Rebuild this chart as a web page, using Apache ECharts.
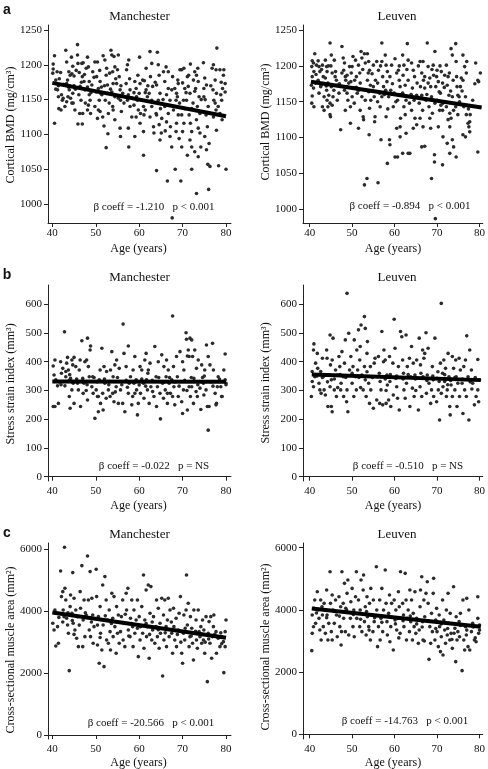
<!DOCTYPE html>
<html><head><meta charset="utf-8">
<script src="https://cdn.jsdelivr.net/npm/echarts@6/dist/echarts.min.js"></script>
<style>html,body{margin:0;padding:0;background:#fff}#c{width:488px;height:769px}</style>
</head><body><div id="c"></div>
<script>
// ---------------- DATA ----------------
var xTicks = [40, 50, 60, 70, 80];
var bmdTicks = [1000, 1050, 1100, 1150, 1200, 1250];
var ssiTicks = [0, 100, 200, 300, 400, 500, 600];
var csaTicks = [0, 2000, 4000, 6000];
var panelTitles = ["Manchester", "Leuven"];
var coeffTexts = [
  "\u03b2 coeff = -1.210   p < 0.001", "\u03b2 coeff = -0.894   p < 0.001",
  "\u03b2 coeff = -0.022   p = NS", "\u03b2 coeff = -0.510   p = NS",
  "\u03b2 coeff = -20.566   p < 0.001", "\u03b2 coeff = -14.763   p < 0.001"
];

var manBmd = [[40.5,1213],[40.2,1201],[40.2,1194],[40.1,1188],[40.8,1165],[40.5,1116],[41.4,1170],[41.6,1180],[41.9,1189],[41.4,1154],[41.5,1137],[42,1135],[42.1,1157],[42.5,1152],[42.3,1149],[41.2,1164],
[43.1,1221],[43.3,1204],[43.5,1178],[43.3,1173],[43.7,1168],[42.9,1140],[43.3,1147],[43.9,1164],[43.6,1154],
[44.4,1211],[44.5,1187],[44.1,1185],[44.7,1198],[44.2,1152],[44.7,1159],[44.5,1145],[45,1170],[44.8,1145],[45.2,1135],[45,1184],[45.3,1165],
[45.8,1229],[45.8,1214],[46.2,1189],[45.9,1202],[45.9,1115],[46.4,1169],[46.1,1157],[46.6,1149],[46.3,1130],
[46.8,1202],[47.1,1203],[46.9,1183],[47.3,1176],[46.9,1115],[47.5,1164],[47,1130],[47.6,1145],[47.8,1195],
[48.1,1211],[48.3,1197],[48.5,1176],[48.1,1168],[48.7,1149],[48.3,1142],[48.8,1130],[48.1,1135],[49.1,1171],[49.3,1190],[48.5,1157],
[49.8,1204],[50.4,1204],[50.2,1183],[50.6,1166],[50.1,1161],[50.8,1149],[49.8,1140],[50.6,1135],[51,1133],[50.4,1123],[51,1176],[51.1,1159],
[51.7,1213],[52.1,1207],[52.5,1195],[52.4,1185],[51.6,1125],[51.9,1112],[52.4,1081],[52.8,1101],[52.7,1171],[52.2,1149],[53.1,1145],[51.4,1157],[52.9,1130],[52,1170],[52.7,1159],
[53.5,1221],[53.7,1214],[54.2,1212],[53.9,1190],[54.4,1197],[54,1173],[53.7,1161],[54.4,1154],[53.9,1140],[54.4,1121],[54,1135],
[55.2,1214],[55,1193],[55.4,1183],[54.8,1173],[55.6,1164],[55.2,1152],[55.7,1149],[55.9,1133],[55.6,1109],[55.7,1097],[56.2,1159],
[57.3,1200],[57.6,1207],[57.1,1193],[57,1173],[57.9,1164],[57.5,1157],[57.3,1149],[57.9,1140],[57.5,1109],[57.6,1082],[58.3,1125],[58.3,1152],
[59,1176],[59.3,1166],[59.4,1154],[59.6,1149],[58.8,1142],[59.8,1135],[59.3,1125],[59,1097],[60.1,1211],[60.2,1173],[60,1159],[60.2,1116],[60.3,1130],
[60.8,1178],[61.2,1177],[60.6,1149],[61,1140],[61.1,1128],[61,1104],[61,1070],[61.6,1195],[61.6,1164],[61.4,1135],[61.9,1154],
[62.5,1219],[62.9,1202],[62.6,1183],[63.1,1169],[62.9,1149],[62.5,1125],[63.3,1111],[63.4,1102],[62.9,1140],[62.3,1159],
[64.2,1218],[64.4,1200],[64.6,1185],[64,1171],[64.8,1159],[64.4,1149],[64.9,1137],[64,1128],[64.6,1114],[65.1,1102],[64.8,1092],[64,1048],[65.2,1123],[65.6,1190],
[66.2,1197],[66.7,1190],[65.9,1176],[66.7,1166],[66.3,1157],[67.1,1149],[65.9,1140],[66.7,1130],[66.3,1118],[67.2,1111],[67.1,1097],[67.5,1082],[66.5,1033],[67.5,1164],[67.7,1183],
[68.2,1166],[68.6,1159],[68.5,1149],[68,1140],[69,1128],[68.6,1116],[68.5,1104],[69.2,1094],[68.3,1050],[67.6,980],[69.4,1193],[69,1173],[68.8,1154],
[69.8,1193],[70.3,1195],[70,1174],[70.5,1166],[70.2,1149],[69.8,1128],[70.3,1116],[70,1104],[69.8,1082],[69.6,1033],[70.5,1137],
[71.8,1201],[71.3,1169],[71.7,1159],[70.9,1149],[72.1,1137],[71.5,1128],[71.8,1116],[72.1,1104],[71.7,1092],[72.1,1082],[71.1,1070],[72.1,1050],[72.5,1178],[71.1,1183],
[72.8,1190],[73.2,1185],[73.6,1176],[73,1166],[73.8,1154],[73.4,1140],[74,1130],[73.2,1121],[73.6,1109],[74,1102],[72.8,1075],[73.6,1068],[73.2,1015],[74.2,1082],[72.8,1162],
[74.8,1203],[75.1,1181],[75.5,1171],[74.9,1154],[75.9,1140],[75.4,1128],[75.7,1111],[75.1,1097],[76.1,1087],[75.5,1078],[75.8,1057],[76,1021],[76.3,1054],[74.9,1166],
[77.1,1200],[77.7,1193],[77.5,1178],[77,1164],[77.8,1159],[77.2,1149],[77.7,1135],[77.1,1125],[77.8,1106],[77.9,1224],[77.5,1145],
[78.6,1193],[79.5,1193],[79.8,1173],[79.2,1166],[79.8,1161],[79,1149],[78.6,1130],[78.3,1055],[80,1050],[79.1,1121],[78.8,1157],
[40.8,1178],[41.1,1190],[42.6,1172],[43.8,1190],[44.0,1170],[45.5,1192],[46.7,1175],[47.4,1186],[48.9,1160],[49.6,1182],[50.9,1192],[51.3,1168],[53.2,1188],[53.4,1165],[54.6,1180],[55.8,1170],[56.5,1145],[57.8,1180],[58.8,1160],[59.7,1185],[61.4,1160],[62.0,1170],[63.7,1175],[63.9,1130],[65.5,1150],[66.0,1105],[67.9,1135],[68.9,1178],[69.3,1145],[70.8,1160],[71.4,1185],[72.4,1145],[73.5,1195],[74.3,1150],[76.5,1170],[76.8,1195],[78.2,1140],[79.4,1185],[78.9,1175],[75.2,1150]];

var leuBmd = [[40.6,1207],[40.9,1204],[41.2,1217],[40.5,1199],[41,1192],[40.6,1185],[40.4,1173],[40.9,1169],[40.6,1158],[40.5,1148],[41,1143],[41.4,1176],[41.6,1201],
[42,1207],[42.2,1199],[42.4,1192],[42,1180],[42.6,1171],[42.2,1162],[43,1201],[43.2,1185],[42.7,1173],[43.4,1157],[43,1143],[43.4,1138],
[43.7,1208],[44,1199],[44.1,1192],[43.7,1183],[44.3,1176],[44,1166],[44.5,1159],[44.1,1152],[44.8,1148],[44.3,1143],[44.8,1132],[44.9,1129],[44.8,1232],[45.1,1215],[45.3,1190],[45.1,1171],[45.5,1157],[45.3,1145],
[45.8,1208],[46.1,1192],[46.3,1180],[45.7,1166],[46.5,1152],[46.9,1162],[46.5,1173],[47.3,1111],[47.6,1190],[47.9,1211],[47.6,1227],
[48,1194],[48.4,1185],[48.2,1204],[48.7,1171],[48.2,1166],[48.8,1162],[48.4,1138],[49,1152],[49.2,1176],[49.4,1199],[48.8,1187],
[49.6,1143],[50,1199],[50.2,1213],[49.7,1178],[50.4,1169],[50,1157],[50.5,1148],[49.6,1120],[50.8,1208],[51,1185],[51.2,1162],
[51.5,1201],[51.8,1190],[52.1,1220],[52.3,1211],[51.9,1176],[51.5,1166],[52.3,1157],[51.9,1138],[51.5,1113],[52.6,1129],[52.7,1125],[52.9,1217],[53.1,1204],[52.9,1034],[53.5,1043],[53.1,1152],
[53.6,1217],[53.9,1206],[54.1,1194],[53.6,1180],[54.3,1173],[53.9,1164],[54.4,1152],[54.1,1141],[54,1104],[54.7,1189],[55,1201],[55,1171],[55.2,1157],[55.4,1129],[55.3,1122],
[55.8,1206],[56.2,1194],[56,1176],[56.5,1162],[56,1150],[56.6,1143],[56.1,1037],[56.8,1097],[57,1232],[57,1206],[57.2,1185],[57.4,1171],[57,1157],
[57.8,1215],[58,1201],[58.3,1192],[58.2,1178],[57.9,1166],[58.6,1157],[58,1129],[58.3,1064],[58.8,1097],[58.9,1090],[59.1,1166],[59.3,1201],[58.9,1185],
[60.1,1210],[59.9,1162],[60.3,1150],[59.7,1143],[60.1,1073],[60.7,1073],[60.5,1113],[60.9,1194],[61.1,1180],[61.3,1171],[60.7,1152],[61.4,1127],[61.3,1115],[61.3,1101],
[61.9,1215],[62.2,1201],[62,1187],[62.5,1173],[61.9,1162],[62.7,1152],[62.2,1143],[62.5,1132],[61.9,1078],[62.7,1106],[63,1231],[63.2,1208],[63.2,1180],[63.2,1078],[63.6,1078],[63.5,1148],
[64,1204],[64.4,1194],[64.2,1169],[64.6,1152],[64,1138],[64.8,1127],[64.4,1113],[65.2,1118],[65.3,1176],[65.2,1159],
[66,1206],[66.4,1190],[66.1,1171],[66.4,1159],[65.8,1148],[66.6,1138],[66,1127],[66.4,1087],[66.7,1206],[67.1,1185],[67.1,1169],[67.4,1152],[66.7,1115],[67.1,1088],[67.7,1232],[67.9,1199],[67.9,1176],
[68.3,1183],[68.5,1171],[68.7,1157],[68.1,1143],[68.9,1134],[68.3,1127],[68.5,1113],[68.7,1043],[69.1,1201],[69.2,1187],[69.5,1220],[69.7,1171],[69.5,1148],[69.4,1076],[69.4,1066],[69.6,987],
[70,1194],[70.3,1178],[70.5,1164],[70,1152],[70.6,1138],[70.3,1115],[71,1192],[71.3,1176],[70.8,1162],[71.4,1148],[71.3,1138],[71.4,1101],[71.3,1062],[71.8,1187],
[72.2,1201],[72.6,1185],[72.4,1173],[72.8,1159],[72.2,1143],[73,1134],[72.6,1125],[73,1115],[72.4,1092],[73,1078],[73.3,1224],[73.6,1215],[73.8,1180],[73.6,1157],[73.9,1138],[73.6,1097],[73.3,1127],[73.9,1087],
[74.4,1231],[74.5,1206],[74.7,1171],[74.9,1159],[74.4,1143],[74.9,1132],[74.5,1073],[75.3,1150],[75.7,1183],[75.5,1171],[75.2,1157],
[76.1,1215],[76.5,1199],[76.1,1180],[76.7,1157],[76.3,1143],[76.9,1132],[76.1,1104],[76.7,1101],[77,1206],[77.3,1120],[77.5,1115],[77.7,1108],[77.8,1132],[77.7,1122],
[79.1,1204],[79.6,1180],[79.8,1178],[80.2,1190],[79.6,1080],[78.4,1152],
[41.5,1188],[42.8,1195],[43.9,1172],[45.0,1200],[46.0,1185],[47.0,1175],[48.5,1180],[49.8,1190],[51.0,1170],[52.5,1195],[53.8,1190],[55.5,1180],[56.7,1200],[57.6,1160],[59.5,1175],[60.5,1190],[61.6,1160],[62.9,1195],[64.7,1185],[65.6,1200],[66.8,1180],[67.6,1160],[68.8,1195],[69.9,1185],[70.7,1200],[71.7,1170],[72.9,1190],[73.2,1165],[74.6,1185],[75.9,1165],[76.9,1190],[77.4,1140],[78.9,1175],[58.4,1140],[63.9,1160],[44.4,1200],[50.6,1180],[70.9,1145],[61.1,1200],[54.6,1165]];

var manSsi = [[40.2,244],[40.6,244],[40.4,354],[40.2,385],[40.8,337],[41.2,316],[41.4,255],[40.6,406],
[41.9,400],[42.1,360],[42.4,377],[42.5,331],[42.8,504],[42.9,316],[43.1,366],[43.3,395],[43.1,348],
[43.5,415],[43.7,371],[43.9,279],[44.1,238],[44.2,342],[44.5,406],[44.5,302],[44.7,389],[44.8,325],[45,255],[45,415],
[45.4,383],[45.8,325],[46,302],[46.2,371],[46.4,406],[46.8,473],[47,342],[46.5,244],[47.1,290],[47.3,325],
[47.5,400],[47.9,406],[48.1,482],[48.3,383],[48.5,348],[48.7,441],[48.8,455],[49.1,313],[48.1,267],[49.3,348],[49.4,290],
[49.8,203],[50.1,302],[50.4,279],[50.6,226],[50.8,337],[51,371],[51.1,255],[50.6,279],[51.4,447],[51.6,290],[51.7,232],[51.9,383],[52.1,325],
[52.4,273],[52.5,366],[52.9,302],[53.1,331],[53.3,279],[53.4,371],[53.7,435],[53.9,290],[54,348],[54.2,261],
[54.4,389],[54.7,313],[54.8,406],[55.2,255],[55.4,377],[55.6,331],[55.7,302],[56.2,255],[56.3,531],[56.5,429],[56.7,226],
[57,383],[57.3,311],[57.5,455],[57.5,290],[57.7,325],[58,348],[58.3,250],[58.5,279],[58.6,371],[59,418],
[59.3,337],[59.4,302],[59.6,215],[59.8,255],[60,319],[60.2,383],[60.3,290],[60.6,371],
[61,325],[61.1,273],[61.3,406],[61.6,429],[61.7,337],[61.9,302],[62.1,371],[62.3,255],[62.5,395],[62.7,313],
[63.1,296],[63.4,279],[63.6,453],[63.9,348],[64,244],[64.2,313],[64.4,400],[64.6,331],[64.8,290],
[64.9,201],[65.2,424],[65.4,325],[65.6,273],[65.7,383],[66,302],[66.2,348],[66.3,406],[66.5,255],
[66.7,371],[66.9,325],[67.2,290],[67.5,337],[67.7,559],[67.7,279],[67.9,383],[68,313],[68.2,250],
[68.6,418],[68.8,348],[69,279],[69.4,435],[69.5,331],[69.8,261],[70,220],[70.2,302],[70.3,371],[70,400],
[70.8,501],[70.9,478],[71.1,420],[71.3,441],[71.5,418],[71.7,482],[71.8,279],[72.1,476],[72.1,313],[72.3,418],[72.5,255],[72.6,342],[71.5,313],[71.1,232],
[72.8,441],[73.1,296],[73.2,377],[73.4,279],[73.6,406],[73.8,331],[74,308],[74.2,234],[74.4,389],
[74.8,325],[74.9,284],[75.1,371],[75.4,302],[75.5,458],[75.7,244],[75.9,162],[76.1,244],[75.9,418],[76.3,389],
[76.9,464],[77.1,371],[77.2,331],[77.5,290],[77.7,250],[77.8,255],[78,313],[78.2,348],
[78.8,313],[79,279],[79.2,331],[79.5,371],[79.8,427],[80,325],[79.8,337],[79.1,279],
[41.6,330],[42.0,320],[43.9,335],[45.6,340],[46.9,330],[48.0,320],[49.6,345],[50.3,330],[52.0,340],[53.0,320],[55.0,345],[56.0,320],[57.0,335],[58.8,325],[60.6,340],[61.5,315],[63.0,335],[64.5,345],[65.8,330],[67.0,345],[68.3,330],[69.2,315],[70.5,335],[72.0,345],[73.5,320],[74.6,345],[76.5,330],[77.0,315],[78.5,340],[80,320],[47.8,300],[54.5,295],[59.0,290],[66.5,290],[71.0,300],[44.0,355],[62.0,360],[75.0,350]];

var leuSsi = [[40.4,279],[40.6,366],[40.9,441],[41,462],[40.6,331],[41.2,348],[40.9,313],[41.4,395],
[41.8,429],[41.9,377],[42.2,325],[42.4,302],[42.6,366],[42.7,290],[43,412],[43.2,348],[43.4,302],
[43.7,284],[44,441],[44.1,412],[44.3,244],[44.5,354],[44.8,493],[44.8,313],[44.9,389],[45.1,244],[45.3,226],[45.5,482],[45.3,406],[45.1,337],
[45.8,302],[46.1,371],[46.3,279],[46.5,354],[46.9,418],[47.1,383],[47.3,302],[47.4,325],
[47.6,435],[47.9,348],[48,279],[48.2,395],[48.4,476],[48.7,261],[48.8,638],[49,226],[48.8,302],[49.2,499],[49.4,371],
[49.7,418],[50,325],[50.2,383],[50.4,279],[50.5,476],[50.8,348],[51,302],[51.1,441],[51.3,371],
[51.5,511],[51.8,406],[51.9,453],[52.1,528],[52.3,354],[52.6,302],[52.9,557],[52.9,383],[53.1,516],[53.1,337],[53.3,279],[53.5,429],
[53.6,470],[53.9,325],[54.1,255],[54.3,383],[54.4,302],[54.7,348],[55,238],[55.2,395],[55.4,412],
[55.8,267],[56,348],[56.2,418],[56.5,255],[56.6,331],[56.8,302],[57,505],[57.2,250],[57.4,400],
[57.5,441],[57.8,406],[58,255],[58.2,354],[58.3,319],[58.6,267],[58.8,418],[58.9,331],[59.1,244],
[59.6,395],[59.7,284],[59.9,548],[60.1,447],[60.3,342],[60.5,313],[60.7,273],[60.9,383],[61.1,232],
[61.4,505],[61.7,487],[61.9,406],[62.1,360],[62.2,302],[62.5,273],[62.7,493],[62.8,325],[63,383],
[63.5,412],[63.6,244],[63.8,348],[64,453],[64.2,308],[64.4,395],[64.6,279],[64.8,354],[65.2,406],
[65.6,232],[65.8,482],[66,313],[66.1,389],[66.4,279],[66.6,441],[66.7,348],[66.9,412],[67.1,429],[67.4,501],[67.5,290],
[67.7,354],[67.9,447],[68.1,325],[68.5,255],[68.7,302],[68.9,383],[69.1,337],[69.2,279],[69.5,482],
[69.9,261],[70,342],[70.3,302],[70.5,331],[70.6,197],[70.8,395],[71,603],[71,290],[71.3,360],[71.4,313],[71.6,406],
[71.8,331],[72,377],[72.2,279],[72.4,302],[72.6,429],[72.8,348],[73,244],[73.1,215],[73.3,319],[73.6,418],[73.6,279],
[73.9,377],[74.2,302],[74.4,406],[74.5,348],[74.7,244],[74.9,325],[75.2,412],[75.3,279],[75.5,371],
[75.9,325],[76.1,220],[76.3,383],[76.5,302],[76.7,406],[76.9,279],[77,490],[77.3,348],[77.5,197],[77.7,441],
[78.1,371],[78.4,325],[78.8,250],[79.2,279],[79.6,408],[79.8,261],[80,337],[79.6,302],
[41.7,350],[43.0,345],[44.2,330],[45.8,340],[47.2,355],[48.5,345],[50.0,360],[51.6,345],[53.5,365],[54.8,345],[56.4,360],[57.8,340],[59.0,355],[60.5,350],[62.0,340],[63.2,355],[64.9,340],[66.2,360],[67.6,335],[69.0,350],[70.2,365],[71.8,355],[73.2,335],[74.2,345],[76.0,340],[77.8,330],[79.0,345],[46.6,310],[52.0,310],[58.0,300],[65.0,300],[72.5,320],[78.2,305]];

var manCsa = [[40.1,3609],[40.4,3393],[40.6,4040],[41,3932],[40.8,2876],[41.4,2962],[41.2,3501],
[41.9,5300],[42.1,4471],[42.4,4632],[42.5,4040],[42.7,3824],[42.8,6065],[42.9,4740],[43.1,4363],[43.3,3770],[43.5,3555],[43.7,3286],[43.9,2079],[44.1,4148],
[44.2,4524],[44.5,3932],[44.7,5246],[44.8,3609],[45,4417],[45.2,3393],[45.4,4040],[45.6,3124],[45.8,3824],[46,2855],
[46.4,4632],[46.5,4094],[46.8,5472],[47,2855],[47.1,3716],[47.3,4363],[47.5,3178],[47.8,3878],
[48.1,5785],[48.3,4363],[48.5,3393],[48.7,5279],[48.8,3178],[49.1,4417],[49.3,3878],[49.4,2962],[49.6,3501],
[50.1,5354],[50.2,4471],[50.4,2909],[50.6,3824],[50.8,2316],[51,4148],[51.1,3286],[51.4,2747],[51.6,4848],[51.7,3555],[51.9,2208],
[52.1,5117],[52.4,4363],[52.5,3070],[52.7,3716],[52.9,2962],[53.1,4040],[53.3,3339],[53.4,2747],[53.7,4578],
[53.9,3770],[54,3178],[54.2,4471],[54.4,3501],[54.7,2639],[54.8,4148],[55,3286],[55.2,3878],[55.4,2962],
[55.7,3339],[55.9,3824],[56.2,4363],[56.3,3070],[56.5,3609],[56.7,2855],[57,4578],[57.1,4040],[57.4,4740],[57.5,3393],
[57.9,3178],[58,3770],[58.3,4363],[58.5,3501],[58.6,2855],[58.8,4040],[59,3286],[59.3,3716],
[59.6,4363],[59.8,2532],[60,3824],[60.2,3070],[60.3,3501],[60.6,4148],[60.8,3286],[61,5171],[61.1,2801],[61.3,3716],
[61.6,4686],[61.7,3178],[61.9,3501],[62.1,4848],[62.3,2478],[62.5,3932],[62.7,4794],[62.9,3070],[63.1,3393],[63.3,3824],
[63.6,2962],[63.9,3501],[64,4363],[64.2,3178],[64.4,4094],[64.6,2801],[64.8,3609],[64.9,3286],[65.2,4417],[65.4,1907],
[65.6,3878],[65.7,3070],[65.9,4363],[66.2,3501],[66.3,2855],[66.5,3716],[66.7,4417],[66.9,3178],[67.1,4040],
[67.5,3286],[67.7,2639],[67.9,4094],[68,3501],[68.2,3070],[68.5,3770],[68.6,2855],[69,3393],[69.2,3932],
[69.5,4471],[69.8,2639],[70,2316],[70.2,3286],[70.3,3878],[70.5,3070],[70.8,4040],[70.9,5171],[71.1,3555],[71.3,4255],[71.5,2855],[71.7,3178],
[71.8,3824],[72.1,3447],[72.3,2962],[72.5,2424],[72.6,4040],[72.8,3286],[73.1,3716],[73.2,3070],[73.4,2801],[73.6,4040],
[73.8,3339],[74,3178],[74.2,3501],[74.4,2962],[74.6,3716],[74.8,3070],[74.9,3393],[75.1,2639],[75.4,3824],
[75.7,1723],[75.9,3286],[76.1,3663],[76.3,2962],[76.5,3824],[76.7,2478],[76.9,3178],[77.1,3501],[77.2,3878],
[77.7,3339],[77.8,2639],[78.2,3124],[78.6,2855],[79,3178],[79.4,3016],[79.5,2014],[79.8,3339],[80,3716],[79.8,2855],
[41.5,3800],[42.4,3650],[43.6,3950],[44.6,3700],[46.2,3550],[47.6,3950],[49.0,3650],[50.4,3550],[52.2,3850],[53.6,3600],[55.0,3650],[56.8,3900],[58.2,3600],[59.6,3450],[61.6,3600],[63.0,3650],[64.4,3400],[66.0,3300],[67.4,3650],[68.8,3250],[70.6,3450],[72.0,3200],[73.0,3350],[74.6,3250],[76.0,3100],[77.4,3250],[78.8,3300],[45.0,3250],[51.0,3150],[57.6,3200],[62.4,3250],[69.6,3000],[75.2,3000],[79.0,2950]];

var leuCsa = [[40.5,2689],[40.6,3246],[40.9,3460],[41,4049],[41.2,4317],[40.6,3836],[41.4,3568],
[41.8,4585],[41.9,3996],[42.2,3729],[42.4,3354],[42.6,4317],[42.7,3032],[43,3836],[43.2,3461],[43.4,4211],
[43.7,3246],[44,4639],[44.1,3836],[44.3,3032],[44.5,3568],[44.8,5229],[44.9,4211],[45.1,3300],[45.3,3032],[45.5,3996],[45.3,4478],
[45.8,3568],[46.1,4317],[46.3,3836],[46.5,3139],[46.9,4425],[47.1,3461],[47.3,4103],[47.4,2871],
[47.6,5229],[47.9,4211],[48,3729],[48.2,4853],[48.4,3300],[48.7,3996],[48.8,4532],[49,4960],[49.2,3193],
[49.6,3729],[49.7,4264],[50,4692],[50.2,3461],[50.4,3996],[50.5,3139],[50.8,4425],[51,5229],[51.1,3729],
[51.5,4317],[51.8,3461],[51.9,3996],[52.1,4960],[52.3,3300],[52.6,4639],[52.7,5121],[52.9,3622],[53.1,4103],[53.3,3193],[53.5,4425],
[53.6,3782],[53.9,3461],[54.1,4211],[54.3,3032],[54.4,4692],[54.7,3836],[54.9,3300],[55,4317],[55.2,3622],
[55.7,5389],[55.8,3996],[56,2818],[56.2,3461],[56.5,4317],[56.6,3032],[56.8,3729],[57,4692],[57.2,3300],[57.4,3996],
[57.8,5282],[58,4211],[58.2,3622],[58.3,3193],[58.6,3889],[58.8,4478],[58.9,2978],[59.1,3461],[59.3,4211],
[59.7,2710],[59.9,4317],[60.1,3675],[60.3,3996],[60.5,3354],[60.7,3729],[60.9,4585],[61.1,4103],[61.3,3246],[61.4,5229],
[61.9,4211],[62.1,3836],[62.2,3461],[62.5,5175],[62.7,4317],[62.8,3032],[63,3729],[63.2,3996],[63.5,3300],
[63.6,4639],[63.8,3622],[64,4317],[64.2,3032],[64.4,3889],[64.6,3461],[64.8,4585],[65,3246],[65.2,3729],
[65.6,2925],[65.8,3354],[66,4103],[66.1,4639],[66.4,5068],[66.6,3622],[66.7,3032],[66.9,4317],[67.1,3782],[67.4,4532],
[67.7,4907],[67.9,4211],[68.1,2410],[68.3,3461],[68.5,2925],[68.7,3889],[68.9,3300],[69.1,4532],[69.2,5014],[69.5,3032],
[69.7,3675],[69.9,4049],[70,3300],[70.3,2818],[70.5,3836],[70.6,3461],[70.8,2657],[71,3139],[71.3,4317],[71.4,2550],[71.6,3675],
[71.8,3354],[72,2925],[72.2,3996],[72.4,3193],[72.6,4532],[72.8,3568],[73,3032],[73.1,3889],[73.3,3246],[73.6,2764],
[73.9,4746],[74.2,3407],[74.4,2336],[74.5,3782],[74.7,3032],[74.9,3300],[75.2,3622],[75.3,3139],[75.5,3889],
[75.9,2046],[76.1,4317],[76.3,3032],[76.5,2710],[76.7,3461],[76.9,3193],[77,4371],[77.3,2818],[77.5,3996],[77.7,2710],
[78.1,3300],[78.4,3568],[78.8,3032],[79.2,2978],[79.6,4425],[79.8,3246],[80,3514],[79.6,3729],
[41.6,3900],[42.9,4100],[44.0,3750],[45.7,3950],[47.0,3800],[48.5,4050],[50.3,3850],[52.0,3700],[53.4,3950],[55.3,3750],[57.0,3600],[58.5,3800],[60.2,3550],[62.0,3650],[63.7,3800],[65.2,3550],[66.5,3450],[68.0,3650],[69.7,3400],[71.0,3550],[72.5,3400],[74.0,3250],[75.5,3500],[77.0,3350],[78.5,3450],[80,3350],[47.5,3300],[54.0,3350],[61.0,3100],[67.0,3000],[73.5,3050],[79.0,3100]];

// regression line end points (age, fitted value)
var manBmdFit = [[40,1174],[80,1126]];
var leuBmdFit = [[40.3,1178],[80.5,1142]];
var manSsiFit = [[40,331],[80,330]];
var leuSsiFit = [[40.5,356],[80.3,336]];
var manCsaFit = [[40,3960],[80,3140]];
var leuCsaFit = [[40.5,4045],[80.3,3460]];

var yTitles = ["Cortical BMD (mg/cm\u00b3)", "Stress strain index (mm\u00b3)", "Cross-sectional muscle area (mm\u00b2)"];
var xTitle = "Age (years)";
var panelLetters = ["a", "b", "c"];

// ---------------- LAYOUT ----------------
var SERIF = '"Liberation Serif", "Times New Roman", serif';
var grids = [
  {left:48, top:25, width:183, height:198},
  {left:303, top:25, width:181, height:198},
  {left:48, top:285, width:183, height:196},
  {left:303, top:285, width:181, height:196},
  {left:48, top:543, width:183, height:196},
  {left:303, top:543, width:181, height:196}
];
var xRanges = [[39.0,81.15],[38.43,80.77],[39.0,81.15],[38.43,80.77],[39.0,81.15],[38.43,80.77]];
var yRanges = [[972.7,1257.2],[980.9,1257],[-15,667],[-15,667],[-129,6203],[-151,6151]];
var yTickSets = [bmdTicks, bmdTicks, ssiTicks, ssiTicks, csaTicks, csaTicks];
var pointSets = [manBmd, leuBmd, manSsi, leuSsi, manCsa, leuCsa];
var fitSets = [manBmdFit, leuBmdFit, manSsiFit, leuSsiFit, manCsaFit, leuCsaFit];

function plain(v) { return String(Math.round(v)); }

var xAxes = [], yAxes = [], series = [];
for (var i = 0; i < 6; i++) {
  xAxes.push({
    type:'value', gridIndex:i, min:xRanges[i][0], max:xRanges[i][1],
    axisLine:{show:true, lineStyle:{color:'#222', width:1}}, splitLine:{show:false},
    axisTick:{show:true, length:4, lineStyle:{color:'#222'}, customValues:xTicks},
    axisLabel:{fontFamily:SERIF, fontSize:11, color:'#111', margin:5, customValues:xTicks, formatter:plain}
  });
  yAxes.push({
    type:'value', gridIndex:i, min:yRanges[i][0], max:yRanges[i][1],
    axisLine:{show:true, lineStyle:{color:'#222', width:1}}, splitLine:{show:false},
    axisTick:{show:true, length:4, lineStyle:{color:'#222'}, customValues:yTickSets[i]},
    axisLabel:{fontFamily:SERIF, fontSize:11, color:'#111', margin:6, customValues:yTickSets[i], formatter:plain}
  });
  series.push({
    type:'scatter', xAxisIndex:i, yAxisIndex:i, data:pointSets[i],
    symbol:'circle', symbolSize:3.6, itemStyle:{color:'#2b2b2b', opacity:1},
    silent:true, animation:false, z:2
  });
  series.push({
    type:'line', xAxisIndex:i, yAxisIndex:i, data:fitSets[i],
    symbol:'none', lineStyle:{color:'#000', width:4}, silent:true, animation:false, z:3
  });
}

// text graphics
var graphics = [];
function txt(s, x, y, font, rot) {
  var el = {type:'text', x:x, y:y, silent:true,
    style:{text:s, x:0, y:0, font:font, fill:'#111', textAlign:'center', textVerticalAlign:'middle', align:'center', verticalAlign:'middle'}};
  if (rot) el.rotation = rot;
  graphics.push(el);
}
var titleFont = '13px ' + SERIF;
var axisTitleFont = '12px ' + SERIF;
var annFont = '11px ' + SERIF;
var letterFont = 'bold 14px "Liberation Sans", Arial, sans-serif';
var rowTitleY = [17, 278, 535];
var rowXTitleY = [249, 506, 763];
var leftCx = 139.5, rightCx = 393;
var yTitleY = [[125,122],[384,383],[650,647]];
var annPos = [[154,207],[410,206],[154,466],[408,466],[151,723],[405,721]];
var letterY = [10, 275, 533];
for (var r = 0; r < 3; r++) {
  txt(panelTitles[0], leftCx, rowTitleY[r], titleFont);
  txt(panelTitles[1], rightCx + 4, rowTitleY[r], titleFont);
  txt(xTitle, leftCx - 1, rowXTitleY[r], axisTitleFont);
  txt(xTitle, rightCx, rowXTitleY[r], axisTitleFont);
  txt(yTitles[r], 11, yTitleY[r][0], axisTitleFont, Math.PI/2);
  txt(yTitles[r], 266, yTitleY[r][1], axisTitleFont, Math.PI/2);
  txt(panelLetters[r], 7, letterY[r], letterFont);
}
for (var k = 0; k < 6; k++) txt(coeffTexts[k], annPos[k][0], annPos[k][1], annFont);

var chart = echarts.init(document.getElementById('c'), null, {renderer:'canvas'});
chart.setOption({
  animation:false,
  backgroundColor:'#fff',
  grid:grids,
  xAxis:xAxes,
  yAxis:yAxes,
  series:series,
  graphic:graphics
});
</script>
</body></html>
